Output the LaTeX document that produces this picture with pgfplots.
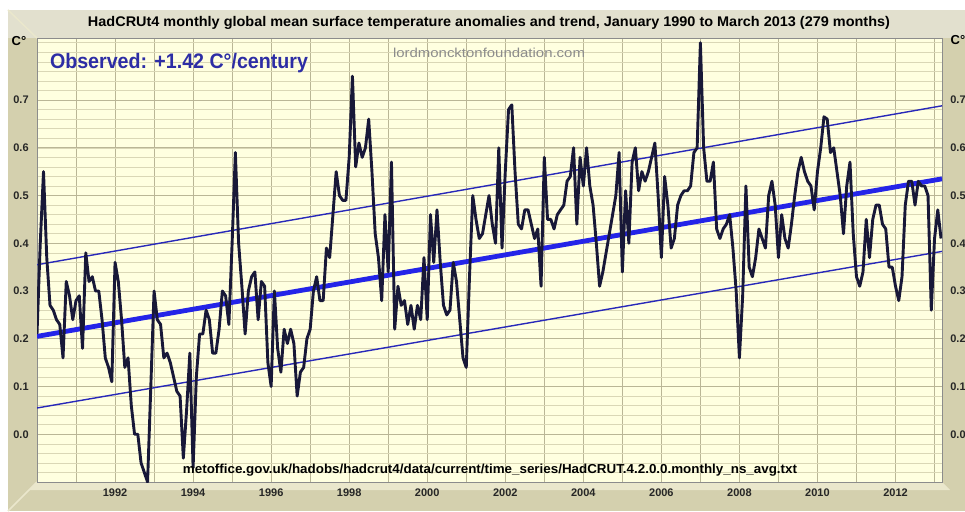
\documentclass[border=0pt]{standalone}
\usepackage{fontspec}
\setmainfont{Liberation Sans}
\usepackage{graphicx}
\usepackage{pgfplots}
\usepackage{pgfplotstable}
\pgfplotsset{compat=1.18}
\definecolor{framebg}{RGB}{212,208,174}
\definecolor{topbg}{RGB}{226,224,206}
\definecolor{floorbg}{RGB}{234,231,204}
\definecolor{plotbg}{RGB}{255,255,224}
\definecolor{gridmaj}{RGB}{186,182,150}
\definecolor{gridmin}{RGB}{218,215,182}
\definecolor{curve}{RGB}{24,24,56}
\definecolor{trend}{RGB}{36,36,232}
\definecolor{band}{RGB}{40,40,185}
\definecolor{obs}{RGB}{45,45,165}
\definecolor{wm}{RGB}{140,140,140}

\pgfplotstableread{
m v
0 0.21
1 0.40
2 0.55
3 0.37
4 0.27
5 0.26
6 0.24
7 0.23
8 0.16
9 0.32
10 0.29
11 0.24
12 0.28
13 0.29
14 0.18
15 0.38
16 0.32
17 0.33
18 0.30
19 0.30
20 0.24
21 0.16
22 0.14
23 0.11
24 0.36
25 0.32
26 0.24
27 0.14
28 0.16
29 0.06
30 0.00
31 0.00
32 -0.06
33 -0.08
34 -0.10
35 0.10
36 0.30
37 0.24
38 0.23
39 0.16
40 0.17
41 0.15
42 0.12
43 0.09
44 0.08
45 -0.05
46 0.05
47 0.17
48 -0.07
49 0.12
50 0.21
51 0.21
52 0.26
53 0.24
54 0.17
55 0.17
56 0.22
57 0.30
58 0.29
59 0.23
60 0.40
61 0.59
62 0.40
63 0.31
64 0.21
65 0.30
66 0.33
67 0.34
68 0.24
69 0.32
70 0.31
71 0.15
72 0.10
73 0.30
74 0.18
75 0.13
76 0.22
77 0.19
78 0.22
79 0.19
80 0.08
81 0.13
82 0.14
83 0.20
84 0.22
85 0.30
86 0.33
87 0.28
88 0.28
89 0.39
90 0.37
91 0.46
92 0.55
93 0.50
94 0.49
95 0.49
96 0.58
97 0.75
98 0.56
99 0.61
100 0.58
101 0.60
102 0.66
103 0.55
104 0.42
105 0.37
106 0.28
107 0.46
108 0.34
109 0.57
110 0.22
111 0.31
112 0.27
113 0.28
114 0.23
115 0.27
116 0.22
117 0.27
118 0.24
119 0.37
120 0.24
121 0.46
122 0.36
123 0.47
124 0.36
125 0.27
126 0.25
127 0.26
128 0.36
129 0.32
130 0.24
131 0.16
132 0.14
133 0.33
134 0.50
135 0.45
136 0.41
137 0.42
138 0.46
139 0.50
140 0.44
141 0.40
142 0.60
143 0.39
144 0.55
145 0.68
146 0.69
147 0.55
148 0.44
149 0.43
150 0.47
151 0.47
152 0.44
153 0.41
154 0.43
155 0.31
156 0.58
157 0.45
158 0.45
159 0.43
160 0.46
161 0.47
162 0.48
163 0.53
164 0.54
165 0.60
166 0.44
167 0.58
168 0.52
169 0.60
170 0.52
171 0.48
172 0.40
173 0.31
174 0.34
175 0.38
176 0.42
177 0.46
178 0.50
179 0.59
180 0.34
181 0.51
182 0.40
183 0.57
184 0.60
185 0.51
186 0.55
187 0.53
188 0.55
189 0.58
190 0.61
191 0.50
192 0.37
193 0.54
194 0.48
195 0.39
196 0.41
197 0.48
198 0.50
199 0.51
200 0.51
201 0.52
202 0.59
203 0.60
204 0.82
205 0.60
206 0.53
207 0.53
208 0.57
209 0.43
210 0.41
211 0.43
212 0.44
213 0.46
214 0.39
215 0.30
216 0.16
217 0.29
218 0.52
219 0.35
220 0.33
221 0.37
222 0.43
223 0.41
224 0.39
225 0.50
226 0.53
227 0.48
228 0.37
229 0.46
230 0.41
231 0.39
232 0.44
233 0.50
234 0.55
235 0.58
236 0.55
237 0.53
238 0.52
239 0.47
240 0.55
241 0.60
242 0.665
243 0.66
244 0.59
245 0.60
246 0.55
247 0.50
248 0.42
249 0.52
250 0.57
251 0.42
252 0.33
253 0.31
254 0.34
255 0.45
256 0.37
257 0.45
258 0.48
259 0.48
260 0.44
261 0.43
262 0.35
263 0.35
264 0.31
265 0.28
266 0.33
267 0.48
268 0.53
269 0.53
270 0.48
271 0.53
272 0.52
273 0.52
274 0.50
275 0.26
276 0.41
277 0.47
278 0.41
}\hadcrut

\begin{document}
\begin{tikzpicture}[x=1pt,y=1pt]
\useasboundingbox (0,0) rectangle (965,511);
\fill[white] (0,0) rectangle (965,511);
\fill[framebg] (8,0) rectangle (965,501);
\fill[topbg] (8,473) rectangle (965,501);
\fill[floorbg] (37,29) -- (942,29) -- (950,21) -- (29,21) -- cycle;
\draw[floorbg, line width=1.5pt] (37,29) -- (8,0);
\draw[floorbg, line width=1.5pt] (37,473) -- (8,501);

\begin{axis}[
  width=905pt, height=444pt, scale only axis,
  at={(37pt,29pt)}, anchor=south west,
  xmin=0, xmax=278.3, ymin=-0.1, ymax=0.83,
  axis background/.style={fill=plotbg},
  axis line style={draw=black!45, line width=0.6pt},
  xtick={12,24,...,276},
  xticklabels={,1992,,1994,,1996,,1998,,2000,,2002,,2004,,2006,,2008,,2010,,2012,},
  ytick={0,0.1,0.2,0.3,0.4,0.5,0.6,0.7},
  minor ytick={-0.08,-0.06,...,0.82},
  grid=both,
  major grid style={draw=gridmaj, line width=0.7pt},
  minor grid style={draw=gridmin, line width=0.6pt},
  major tick length=0pt, minor tick length=0pt,
  tick label style={font=\fontsize{11}{11}\selectfont\bfseries, text=black!85},
  xticklabel style={anchor=center, yshift=-11pt},
  yticklabel style={anchor=center, xshift=-16pt},
  yticklabel={\pgfmathprintnumber[fixed,fixed zerofill,precision=1,assume math mode=true]{\tick}},
  clip=true,
]
\addplot[band, line width=1.4pt] coordinates {(0,0.355) (278.3,0.688)};
\addplot[band, line width=1.4pt] coordinates {(0,0.055) (278.3,0.383)};
\addplot[trend, line width=4.8pt] coordinates {(0,0.205) (278.3,0.535)};
\addplot[curve, line width=2.9pt, line join=round] table[x=m, y=v] {\hadcrut};
\end{axis}

\begin{axis}[
  width=905pt, height=444pt, scale only axis,
  at={(37pt,29pt)}, anchor=south west,
  xmin=0, xmax=278.3, ymin=-0.1, ymax=0.83,
  hide x axis, axis y line*=right,
  y axis line style={draw=none},
  ytick={0,0.1,0.2,0.3,0.4,0.5,0.6,0.7},
  major tick length=0pt,
  tick label style={font=\fontsize{11}{11}\selectfont\bfseries, text=black!85},
  yticklabel style={anchor=center, xshift=16pt},
  yticklabel={\pgfmathprintnumber[fixed,fixed zerofill,precision=1,assume math mode=true]{\tick}},
]
\addplot[draw=none] coordinates {(0,0)};
\end{axis}

\node at (489,488) {\resizebox{802pt}{\height}{\fontsize{14}{14}\selectfont\bfseries HadCRUt4 monthly global mean surface temperature anomalies and trend, January 1990 to March 2013 (279 months)}};
\node[text=obs] at (179,448) {\resizebox{258pt}{\height}{\fontsize{21}{21}\selectfont\bfseries Observed: +1.42 C°/century}};
\node[text=wm] at (489,458) {\resizebox{192pt}{\height}{\fontsize{13}{13}\selectfont lordmoncktonfoundation.com}};
\node at (490,41) {\resizebox{614pt}{\height}{\fontsize{13}{13}\selectfont\bfseries metoffice.gov.uk/hadobs/hadcrut4/data/current/time\_series/HadCRUT.4.2.0.0.monthly\_ns\_avg.txt}};
\node at (19,470) {\fontsize{13}{13}\selectfont\bfseries C°};
\node at (958,471) {\fontsize{13}{13}\selectfont\bfseries C°};
\end{tikzpicture}
\end{document}
